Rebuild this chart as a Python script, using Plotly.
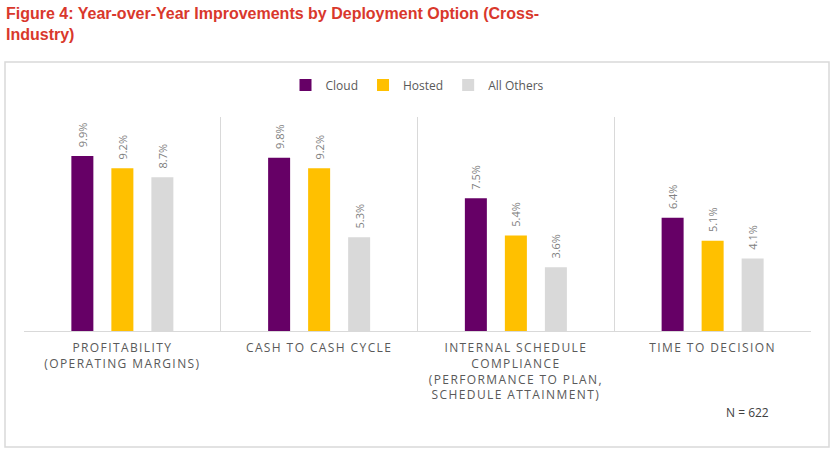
import plotly.graph_objects as go

categories = [
    "PROFITABILITY<br>(OPERATING MARGINS)",
    "CASH TO CASH CYCLE",
    "INTERNAL SCHEDULE<br>COMPLIANCE<br>(PERFORMANCE TO PLAN,<br>SCHEDULE ATTAINMENT)",
    "TIME TO DECISION",
]
series_names = ["Cloud", "Hosted", "All Others"]
cloud = [9.9, 9.8, 7.5, 6.4]
hosted = [9.2, 9.2, 5.4, 5.1]
all_others = [8.7, 5.3, 3.6, 4.1]
colors = ["#660066", "#FFC000", "#D9D9D9"]
title_text = "Figure 4: Year-over-Year Improvements by Deployment Option (Cross-<br>Industry)"
note_text = "N = 622"

W, H = 835, 456
L, R, T, B = 24, 24, 117, 125
pw, ph = W - L - R, H - T - B

def px_x(x):
    return (x - L) / pw

def px_y(y):
    return (H - B - y) / ph

fig = go.Figure()
for name, vals, col in zip(series_names, [cloud, hosted, all_others], colors):
    fig.add_trace(go.Bar(
        name=name, x=categories, y=vals, marker=dict(color=col, line=dict(width=0)),
        texttemplate="\u00a0\u00a0%{y:.1f}%", textposition="outside", textangle=-90,
        constraintext="none",
        outsidetextfont=dict(family="Open Sans", size=11, color="#808080"),
        cliponaxis=False, hoverinfo="skip",
    ))

fig.update_layout(
    width=W, height=H, margin=dict(l=L, r=R, t=T, b=B),
    paper_bgcolor="white", plot_bgcolor="white",
    barmode="group", bargap=0.39, bargroupgap=0.45,
    font=dict(family="Open Sans", color="#595959"),
    legend=dict(
        orientation="h", x=0.5, xanchor="center", y=px_y(85), yanchor="middle",
        font=dict(family="Open Sans", size=12, color="#595959"),
        bgcolor="rgba(0,0,0,0)",
    ),
    showlegend=True,
    xaxis=dict(
        type="category", tickson="boundaries", showgrid=True, gridcolor="#D9D9D9", gridwidth=1,
        showline=True, linecolor="#D9D9D9", linewidth=1, ticks="",
        tickfont=dict(family="Open Sans", size=12, color="#595959"),
        ticklabelstandoff=6, fixedrange=True,
    ),
    yaxis=dict(range=[0, 12.1], visible=False, showgrid=False, zeroline=False, fixedrange=True),
    shapes=[dict(
        type="rect", xref="paper", yref="paper",
        x0=px_x(5), x1=px_x(829), y0=px_y(447), y1=px_y(62),
        line=dict(color="#D9D9D9", width=1.5), layer="below",
    )],
    annotations=[
        dict(
            text=note_text, xref="paper", yref="paper", x=px_x(747), y=px_y(412),
            xanchor="center", yanchor="middle", showarrow=False,
            font=dict(family="Open Sans", size=12, color="#404040"),
        ),
        dict(
            text=title_text, xref="paper", yref="paper", x=px_x(4), y=px_y(3),
            xanchor="left", yanchor="top", align="left", showarrow=False,
            font=dict(family="Liberation Sans, Arial", size=16, color="#D9382C", weight="bold"),
        ),
    ],
)

post = """
var gd = document.getElementById('{plot_id}');
function ls(){ gd.querySelectorAll('.xtick text').forEach(function(t){ t.style.letterSpacing='1.4px'; }); }
ls();
gd.on('plotly_afterplot', ls);
"""
fig.write_html("out.html", post_script=post, config={"displayModeBar": False})
